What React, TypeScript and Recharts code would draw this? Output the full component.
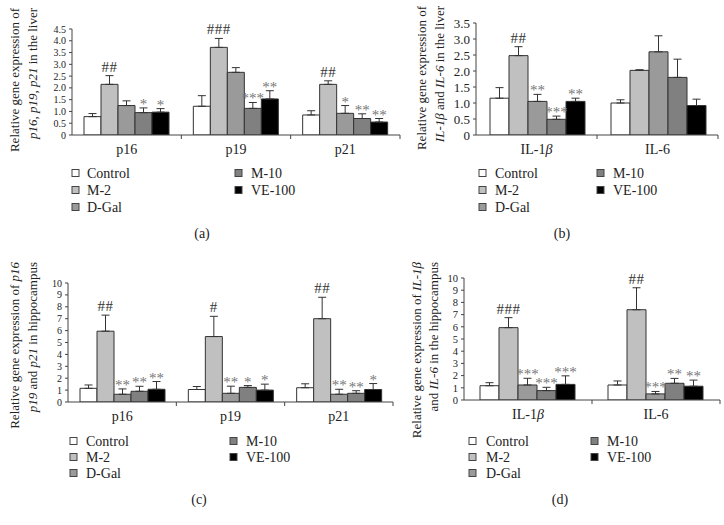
import React from 'react';
import { BarChart, Bar, XAxis, YAxis, ErrorBar, LabelList } from 'recharts';

const FONT = "'Liberation Serif', 'DejaVu Serif', serif";

const groups = ['Control', 'M-2', 'D-Gal', 'M-10', 'VE-100'];
const groupColors = ['#ffffff', '#c0c0c0', '#9a9a9a', '#808080', '#000000'];

// (a) liver p16/p19/p21
const aCategories = ['p16', 'p19', 'p21'];
const aMeans = [
  [0.78, 2.15, 1.25, 0.95, 0.97],
  [1.22, 3.72, 2.66, 1.13, 1.53],
  [0.85, 2.15, 0.92, 0.7, 0.55],
];
const aErrors = [
  [0.13, 0.37, 0.2, 0.2, 0.15],
  [0.45, 0.38, 0.2, 0.25, 0.35],
  [0.18, 0.15, 0.33, 0.2, 0.15],
];
const aMarks = [
  ['', '##', '', '*', '*'],
  ['', '###', '', '***', '**'],
  ['', '##', '*', '**', '**'],
];
const aTicks = [0, 0.5, 1, 1.5, 2, 2.5, 3, 3.5, 4, 4.5];

// (b) liver IL-1β / IL-6
const bCategories = ['IL-1β', 'IL-6'];
const bMeans = [
  [1.15, 2.48, 1.05, 0.49, 1.05],
  [1.0, 2.02, 2.6, 1.8, 0.92],
];
const bErrors = [
  [0.33, 0.28, 0.22, 0.1, 0.1],
  [0.1, 0.02, 0.5, 0.57, 0.2],
];
const bMarks = [
  ['', '##', '**', '***', '**'],
  ['', '', '', '', ''],
];
const bTicks = [0, 0.5, 1, 1.5, 2, 2.5, 3, 3.5];

// (c) hippocampus p16/p19/p21
const cCategories = ['p16', 'p19', 'p21'];
const cMeans = [
  [1.15, 5.95, 0.65, 0.9, 1.07],
  [1.05, 5.5, 0.73, 1.23, 1.0],
  [1.2, 7.0, 0.65, 0.73, 1.05],
];
const cErrors = [
  [0.28, 1.35, 0.45, 0.42, 0.65],
  [0.25, 1.7, 0.6, 0.15, 0.5],
  [0.33, 1.8, 0.42, 0.22, 0.5],
];
const cMarks = [
  ['', '##', '**', '**', '**'],
  ['', '#', '**', '*', '*'],
  ['', '##', '**', '**', '*'],
];
const cTicks = [0, 1, 2, 3, 4, 5, 6, 7, 8, 9, 10];

// (d) hippocampus IL-1β / IL-6
const dCategories = ['IL-1β', 'IL-6'];
const dMeans = [
  [1.17, 5.93, 1.23, 0.77, 1.28],
  [1.23, 7.4, 0.5, 1.37, 1.13],
];
const dErrors = [
  [0.25, 0.82, 0.55, 0.27, 0.7],
  [0.33, 1.8, 0.2, 0.4, 0.5],
];
const dMarks = [
  ['', '###', '***', '***', '***'],
  ['', '##', '***', '**', '**'],
];
const dTicks = [0, 1, 2, 3, 4, 5, 6, 7, 8, 9, 10];

function buildRows(cats: string[], means: number[][], errs: number[][], marks: string[][]) {
  return cats.map((c, i) => {
    const row: any = { name: c };
    groups.forEach((_, j) => {
      row[`v${j}`] = means[i][j];
      row[`e${j}`] = [0, errs[i][j]];
      row[`m${j}`] = marks[i][j];
    });
    return row;
  });
}

function catText(label: string) {
  if (label.endsWith('β')) {
    return (
      <>
        {label.slice(0, -1)}
        <tspan fontStyle="italic">β</tspan>
      </>
    );
  }
  return label;
}

const CatTick = (props: any) => {
  const { x, y, payload } = props;
  const off = payload && typeof payload.offset === 'number' ? payload.offset : 0;
  return (
    <g>
      {off > 0 && <line x1={x + off} x2={x + off} y1={y} y2={y + 4} stroke="#444" strokeWidth={1} />}
      <text x={x} y={y + 19} textAnchor="middle" fontSize={14} fontFamily={FONT} fill="#222">
        {catText(String(payload.value))}
      </text>
    </g>
  );
};

function makeMark(means: number[][], errs: number[][], j: number) {
  return (props: any) => {
    const vb = props.viewBox && typeof props.viewBox.height === 'number' ? props.viewBox : props;
    const { x, y, width, height } = vb;
    const index = props.index;
    const value = props.value;
    if (!value || index == null) return null;
    const mean = means[index][j];
    const err = errs[index][j];
    const ppu = Math.abs(height) / mean;
    const top = y - err * ppu;
    const isHash = String(value).startsWith('#');
    return (
      <text
        x={x + width / 2}
        y={isHash ? top - 4 : top + 1}
        textAnchor="middle"
        fontSize={15}
        fontFamily={FONT}
        fill={isHash ? '#333' : '#777'}
        letterSpacing={isHash ? 0.5 : 0}
      >
        {value}
      </text>
    );
  };
}

type PanelProps = {
  cats: string[];
  means: number[][];
  errs: number[][];
  marks: string[][];
  ticks: number[];
  fmt: (v: number) => string;
  tickFont: number;
  width: number;
  height: number;
  margin: { top: number; right: number; bottom: number; left: number };
  gap: number;
  left: number;
  top: number;
};

function Panel(p: PanelProps) {
  const rows = buildRows(p.cats, p.means, p.errs, p.marks);
  const max = p.ticks[p.ticks.length - 1];
  return (
    <div style={{ position: 'absolute', left: p.left, top: p.top }}>
      <BarChart width={p.width} height={p.height} data={rows} margin={p.margin} barCategoryGap={p.gap} barGap={0}>
        <XAxis
          dataKey="name"
          axisLine={{ stroke: '#444' }}
          tickLine={false}
          tickSize={0}
          tickMargin={0}
          tick={<CatTick />}
          height={25}
          interval={0}
        />
        <YAxis
          domain={[0, max]}
          ticks={p.ticks}
          interval={0}
          tickFormatter={p.fmt}
          width={40}
          axisLine={{ stroke: '#444' }}
          tickLine={{ stroke: '#444' }}
          tickSize={3}
          tickMargin={3}
          tick={{ fontSize: p.tickFont, fill: '#222', fontFamily: FONT }}
          allowDataOverflow
        />
        {groups.map((g, j) => (
          <Bar
            key={g}
            dataKey={`v${j}`}
            name={g}
            fill={groupColors[j]}
            stroke="#333"
            strokeWidth={1}
            isAnimationActive={false}
          >
            <ErrorBar dataKey={`e${j}`} direction="y" width={4} stroke="#333" strokeWidth={1} />
            <LabelList dataKey={`m${j}`} content={makeMark(p.means, p.errs, j)} />
          </Bar>
        ))}
      </BarChart>
    </div>
  );
}

const fmtDec = (v: number) => (v === 0 ? '0' : v.toFixed(1));
const fmtInt = (v: number) => String(v);

function LegendBlock({ sq1, tx1, sq2, tx2, y0, dy }: { sq1: number; tx1: number; sq2: number; tx2: number; y0: number; dy: number }) {
  const col1 = [0, 1, 2];
  const col2 = [3, 4];
  const item = (j: number, row: number, sq: number, tx: number) => (
    <g key={j}>
      <rect x={sq} y={y0 + row * dy - 3.5} width={7} height={7} fill={groupColors[j]} stroke="#444" strokeWidth={1} />
      <text x={tx} y={y0 + row * dy} dominantBaseline="central" fontSize={14} fontFamily={FONT} fill="#222">
        {groups[j]}
      </text>
    </g>
  );
  return (
    <g>
      {col1.map((j, r) => item(j, r, sq1, tx1))}
      {col2.map((j, r) => item(j, r, sq2, tx2))}
    </g>
  );
}

function YLabel({ x1, x2, y, line1, line2 }: { x1: number; x2: number; y: number; line1: React.ReactNode; line2: React.ReactNode }) {
  return (
    <g fontSize={13} fontFamily={FONT} fill="#222">
      <text x={x1} y={y} textAnchor="end" dominantBaseline="central" transform={`rotate(-90 ${x1} ${y})`}>
        {line1}
      </text>
      <text x={x2} y={y} textAnchor="end" dominantBaseline="central" transform={`rotate(-90 ${x2} ${y})`}>
        {line2}
      </text>
    </g>
  );
}

const I = ({ children }: { children: React.ReactNode }) => <tspan fontStyle="italic">{children}</tspan>;

export default function App() {
  return (
    <div style={{ position: 'absolute', left: 0, top: 0, width: 724, height: 525, background: '#fff', overflow: 'hidden' }}>
      <Panel
        cats={aCategories} means={aMeans} errs={aErrors} marks={aMarks} ticks={aTicks} fmt={fmtDec} tickFont={10}
        width={410} height={160} margin={{ top: 29, right: 10, bottom: 0, left: 32 }} gap={12} left={0} top={0}
      />
      <Panel
        cats={bCategories} means={bMeans} errs={bErrors} marks={bMarks} ticks={bTicks} fmt={fmtDec} tickFont={13}
        width={304} height={160} margin={{ top: 23, right: 6, bottom: 0, left: 16 }} gap={14} left={420} top={0}
      />
      <Panel
        cats={cCategories} means={cMeans} errs={cErrors} marks={cMarks} ticks={cTicks} fmt={fmtInt} tickFont={10}
        width={400} height={167} margin={{ top: 23, right: 7, bottom: 0, left: 28 }} gap={12} left={0} top={260}
      />
      <Panel
        cats={dCategories} means={dMeans} errs={dErrors} marks={dMarks} ticks={dTicks} fmt={fmtInt} tickFont={10.5}
        width={314} height={165} margin={{ top: 18, right: 4, bottom: 0, left: 14 }} gap={16} left={410} top={260}
      />
      <svg width={724} height={525} style={{ position: 'absolute', left: 0, top: 0, pointerEvents: 'none' }}>
        <YLabel x1={14} x2={32} y={8} line1="Relative gene expression of"
          line2={<><I>p16</I>, <I>p19</I>, <I>p21</I> in the liver</>} />
        <YLabel x1={421} x2={439} y={6} line1="Relative gene expression of"
          line2={<><I>IL-1β</I> and <I>IL-6</I> in the liver</>} />
        <YLabel x1={14} x2={32} y={262} line1={<>Relative gene expression of <I>p16</I></>}
          line2={<><I>p19</I> and <I>p21</I> in hippocampus</>} />
        <YLabel x1={416} x2={433} y={262} line1={<>Relative gene expression of <I>IL-1β</I></>}
          line2={<>and <I>IL-6</I> in the hippocampus</>} />

        <LegendBlock sq1={72} tx1={87} sq2={235} tx2={251} y0={173} dy={17} />
        <LegendBlock sq1={479} tx1={495} sq2={597} tx2={613} y0={173} dy={17} />
        <LegendBlock sq1={70} tx1={86} sq2={230} tx2={246} y0={441} dy={16} />
        <LegendBlock sq1={469} tx1={486} sq2={591} tx2={607} y0={441} dy={16} />

        <g fontSize={14} fontFamily={FONT} fill="#222" textAnchor="middle" dominantBaseline="central">
          <text x={202} y={233}>(a)</text>
          <text x={562} y={233}>(b)</text>
          <text x={199} y={499}>(c)</text>
          <text x={560} y={499}>(d)</text>
        </g>
      </svg>
    </div>
  );
}
